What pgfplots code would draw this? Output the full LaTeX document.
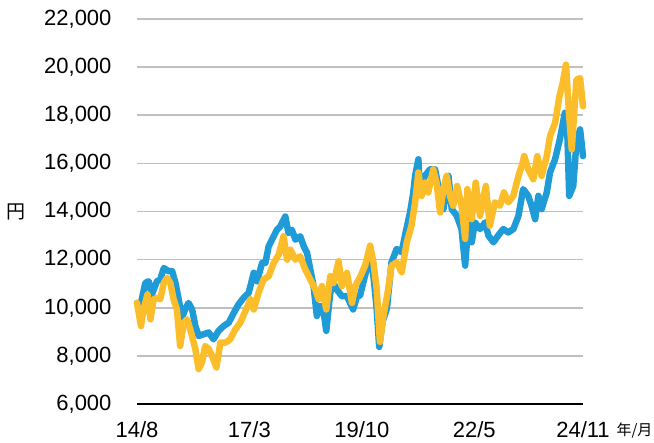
\documentclass[border=0pt]{standalone}
\usepackage{pgfplots}
\usepackage{pgfplotstable}
\pgfplotsset{compat=1.18}
\usepackage{fontspec}
\setmainfont{Liberation Sans}
\newfontfamily\cjk{Noto Sans CJK JP}
\definecolor{cblue}{RGB}{31,155,215}
\definecolor{cyellow}{RGB}{252,189,42}
\definecolor{cgrid}{RGB}{191,191,191}
% blue series: month index since 2014/8, value (yen)
\pgfplotstableread{
m v
0 10200
0.9 10070
2.3 11030
3.2 11100
4.1 10550
5.5 11100
6.4 11170
7.4 11650
8.7 11520
9.7 11520
10.6 11030
11.5 10350
12.4 9590
13.3 9930
14.2 10200
15.2 9930
16.1 9240
17.0 8830
18.4 8900
19.8 8970
21.1 8690
22.5 9040
23.9 9240
25.3 9380
26.7 9790
28.0 10140
29.4 10410
30.8 10620
32.2 11450
33.1 11100
34.5 11860
35.4 11860
36.3 12550
37.7 12970
38.6 13240
39.5 13380
40.9 13790
41.8 13100
42.7 13240
43.7 12830
45.0 12970
46.0 12550
46.9 12280
47.8 11590
48.7 10900
49.6 9660
50.6 10070
51.5 9790
52.2 9040
53.3 10620
54.2 11030
55.1 10760
56.5 10480
57.9 10480
59.6 9930
60.7 10480
61.5 10500
62.9 11340
64.3 12170
65.2 11340
66.1 9960
66.8 8370
67.7 9410
68.9 9960
70.2 11890
71.6 12440
73.0 12310
73.9 13000
75.3 13960
76.2 14790
76.7 15480
77.6 16170
78.0 14930
79.4 15480
80.8 15750
82.2 15750
83.6 14650
84.5 14100
85.9 15480
86.8 14100
88.2 13820
89.5 13270
90.5 11750
91.4 13550
92.3 12720
93.2 13550
94.6 13270
96.0 13550
96.9 13000
98.3 12720
99.6 13000
101.0 13270
102.4 13130
103.8 13270
105.2 13820
106.5 14930
107.9 14650
108.8 14240
109.8 13680
110.7 14650
111.6 14100
113.0 14790
113.9 15620
115.3 16170
116.6 16990
118.0 18100
118.7 17130
119.2 14650
120.3 15060
121.2 16860
122.2 17410
123.0 16300
}\blue
% yellow series
\pgfplotstableread{
m v
0 10200
1.1 9240
1.8 9930
2.9 10550
3.7 9520
4.6 10350
5.5 10410
6.4 10350
7.4 11030
8.3 11240
9.2 11030
10.1 10350
11.0 9930
11.9 8410
12.9 9380
13.8 9520
14.7 9100
16.1 8280
17.0 7450
17.9 7720
18.8 8410
19.8 8280
20.7 8000
21.9 7520
23.0 8550
24.4 8550
25.7 8690
27.1 9100
28.5 9380
29.9 9860
31.3 10350
32.2 9930
33.5 10620
34.9 11170
36.3 11310
37.7 11860
39.1 12210
40.4 12970
41.4 12000
42.3 12410
43.7 12000
45.0 12140
46.4 11590
47.8 11170
49.2 10760
50.1 10350
51.0 10900
52.2 9930
53.3 11310
54.2 11030
55.6 11930
56.5 10900
57.9 11450
59.3 10200
60.2 10900
61.6 11300
62.9 11750
64.3 12580
65.2 11890
66.1 10790
67.0 8580
68.0 9690
69.3 10790
70.2 11750
71.6 11890
73.0 11480
74.4 12720
75.7 13410
76.7 14380
77.6 15620
78.5 14650
79.4 15200
80.3 14790
81.7 15750
82.6 15200
83.6 13960
84.5 14930
85.4 15480
86.3 14650
87.2 14240
88.3 15060
89.5 14240
90.5 12860
91.1 14930
92.3 13680
93.4 15200
94.6 13820
96.2 15060
97.3 13410
98.7 14380
100.1 14240
101.2 14790
102.4 14380
103.8 14650
105.2 15480
106.1 15890
106.8 16300
107.9 15750
109.3 15340
110.4 16300
111.6 15480
113.0 16300
113.9 17130
115.3 17680
116.5 18790
117.4 19340
118.3 20100
119.2 17960
119.9 16580
120.5 17960
121.2 19480
122.2 19540
123.0 18370
}\yellow
\begin{document}
\begin{tikzpicture}
\useasboundingbox (0,0) rectangle (654pt,443pt);
\begin{axis}[
  at={(137pt,39pt)}, anchor=south west,
  scale only axis, width=446pt, height=385pt,
  xmin=0, xmax=123, ymin=6000, ymax=22000,
  ytick={6000,8000,...,22000},
  scaled y ticks=false,
  xtick={0,31,62,93,123},
  xticklabels={14/8,17/3,19/10,22/5,24/11},
  axis y line*=left, y axis line style={draw=none},
  axis x line*=bottom,
  x axis line style={black, line width=1.6pt, -},
  ymajorgrids, grid style={cgrid, line width=1.6pt},
  major tick length=0pt,
  xticklabel style={font=\fontsize{22}{24}\selectfont, yshift=-14pt},
  yticklabel style={font=\fontsize{22}{24}\selectfont, xshift=-22pt},
  /pgf/number format/assume math mode=true,
  /pgf/number format/1000 sep={,},
  clip=false,
]
\addplot[cblue, line width=6.5pt, line join=round, line cap=round] table[x=m,y=v] {\blue};
\addplot[cyellow, line width=6.5pt, line join=round, line cap=round] table[x=m,y=v] {\yellow};
\node[font=\cjk\fontsize{19}{22}\selectfont, anchor=center] at (rel axis cs:0,0.5) [xshift=-121pt] {円};
\node[font=\cjk\fontsize{15}{16}\selectfont, anchor=west] at (rel axis cs:1,0) [xshift=30pt, yshift=-27pt] {年/月};
\end{axis}
\end{tikzpicture}
\end{document}
